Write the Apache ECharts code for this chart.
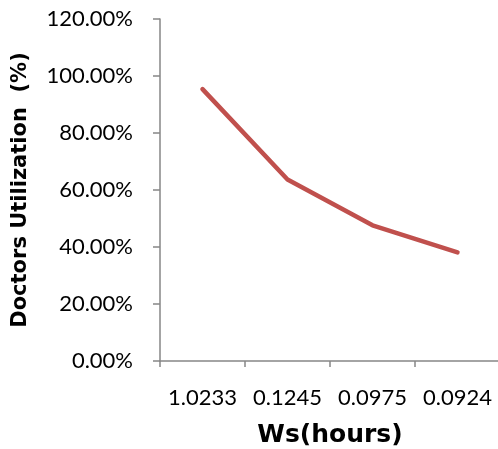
<!DOCTYPE html>
<html>
<head>
<meta charset="utf-8">
<script src="https://cdn.jsdelivr.net/npm/echarts@6/dist/echarts.min.js"></script>
<style>
html,body{margin:0;padding:0;background:#fff;}
#chart{width:498px;height:449px;}
</style>
</head>
<body>
<div id="chart"></div>
<script>
var categories = ['1.0233', '0.1245', '0.0975', '0.0924'];
var utilization = [95.4, 63.7, 47.6, 38.1];
var yTicks = { min: 0, max: 120, interval: 20 };
var xTitle = 'Ws(hours)';
var yTitle = 'Doctors Utilization  (%)';

var chart = echarts.init(document.getElementById('chart'));
var axisGray = '#868686';
chart.setOption({
  animation: false,
  backgroundColor: '#ffffff',
  grid: { left: 160, top: 19, width: 340, height: 342, containLabel: false, outerBoundsMode: 'none' },
  xAxis: {
    type: 'category',
    data: categories,
    boundaryGap: true,
    name: xTitle,
    nameLocation: 'middle',
    nameGap: 62,
    nameTextStyle: { fontFamily: 'DejaVu Sans', fontWeight: 'bold', fontSize: 25, color: '#000' },
    axisLine: { lineStyle: { color: axisGray, width: 1.5 } },
    axisTick: { show: true, interval: 0, length: 6, inside: false, alignWithLabel: false, lineStyle: { color: axisGray, width: 1.5 } },
    axisLabel: { interval: 0, hideOverlap: false, margin: 26, fontFamily: 'Lato', fontSize: 22, color: '#000' },
    splitLine: { show: false }
  },
  yAxis: {
    type: 'value',
    min: yTicks.min,
    max: yTicks.max,
    interval: yTicks.interval,
    name: yTitle,
    nameLocation: 'middle',
    nameGap: 129,
    nameRotate: 90,
    nameTextStyle: { fontFamily: 'DejaVu Sans', fontWeight: 'bold', fontSize: 21, color: '#000' },
    axisLine: { show: true, lineStyle: { color: axisGray, width: 1.5 } },
    axisTick: { show: true, length: 7, lineStyle: { color: axisGray, width: 1.5 } },
    axisLabel: { margin: 27, fontFamily: 'Lato', fontSize: 22, color: '#000',
      formatter: function (v) { return v.toFixed(2) + '%'; } },
    splitLine: { show: false }
  },
  series: [{
    type: 'line',
    data: utilization,
    symbol: 'none',
    lineStyle: { color: '#C0504D', width: 4.5, cap: 'round', join: 'round' },
    itemStyle: { color: '#C0504D' }
  }]
});
</script>
</body>
</html>
